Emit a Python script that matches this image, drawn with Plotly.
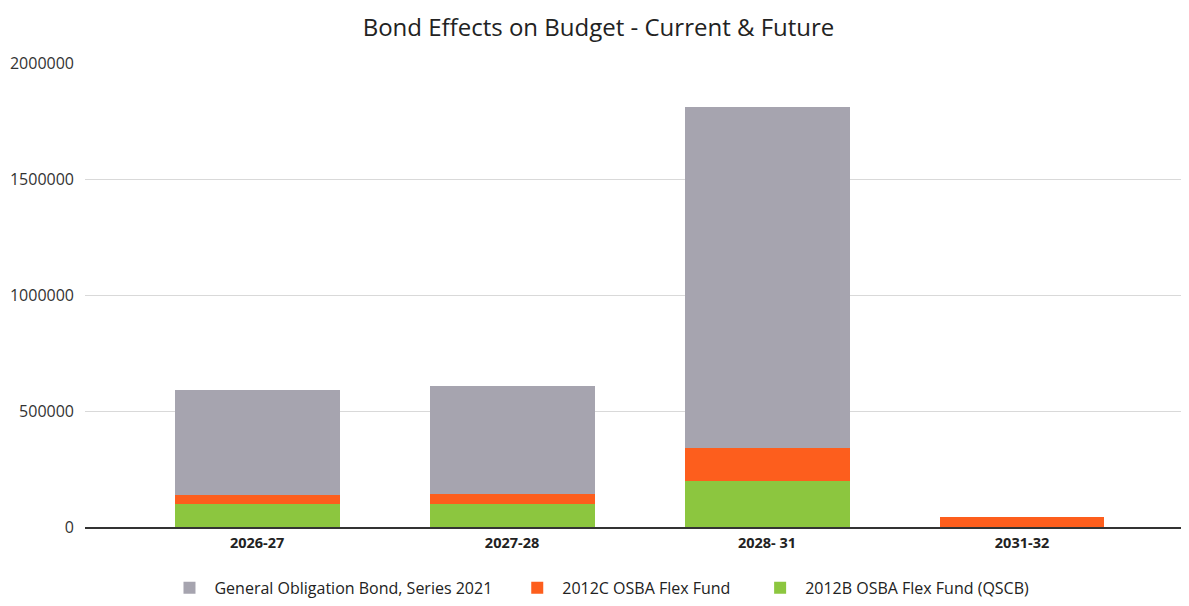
import plotly.graph_objects as go

periods = ["2026-27", "2027-28", "2028- 31", "2031-32"]
go_bond_2021 = [450000, 466000, 1470000, 0]
osba_2012c = [40000, 42000, 140000, 45000]
osba_2012b = [100000, 100000, 200000, 0]

series = [
    ("2012B OSBA Flex Fund (QSCB)", osba_2012b, "#8cc63f", "legend3"),
    ("2012C OSBA Flex Fund", osba_2012c, "#fd5e1d", "legend2"),
    ("General Obligation Bond, Series 2021", go_bond_2021, "#a6a4af", "legend"),
]

fig = go.Figure()
for name, vals, color, leg in series:
    fig.add_trace(go.Bar(
        x=periods,
        y=vals,
        name=name,
        legend=leg,
        marker={"color": color, "line": {"width": 0}},
    ))

# one legend per series so the entries can be spread like the original
legend_style = {
    "orientation": "h",
    "xanchor": "left",
    "y": -0.131, "yanchor": "middle",
    "font": {"size": 16, "color": "#222"},
    "itemwidth": 40,
    "bgcolor": "rgba(0,0,0,0)",
}

# page body has an 8px margin, so the figure is sized to fit inside it
fig.update_layout(
    barmode="stack",
    bargap=0.353,
    width=1181,
    height=598,
    title={
        "text": "Bond Effects on Budget - Current & Future",
        "x": 0.5, "xanchor": "center", "y": 0.982, "yanchor": "top",
        "font": {"family": "Open Sans", "size": 24, "color": "#222"},
    },
    font={"family": "Open Sans", "color": "#333"},
    plot_bgcolor="white",
    paper_bgcolor="white",
    margin={"l": 77, "r": 0, "t": 55, "b": 79},
    xaxis={
        "range": [-0.675, 3.655],
        "showline": True,
        "linecolor": "#333",
        "linewidth": 2,
        "tickfont": {"size": 14.5, "family": "Open Sans", "color": "#222", "weight": "bold"},
        "ticks": "",
        "ticklabelstandoff": 2,
    },
    yaxis={
        "range": [0, 2000000],
        "tickvals": [0, 500000, 1000000, 1500000, 2000000],
        "ticktext": ["0", "500000", "1000000", "1500000", "2000000"],
        "gridcolor": "#d9d9d9",
        "gridwidth": 1,
        "zeroline": False,
        "tickfont": {"size": 16, "color": "#333"},
        "ticklabelstandoff": 10,
    },
    legend={**legend_style, "x": 0.072},
    legend2={**legend_style, "x": 0.387},
    legend3={**legend_style, "x": 0.607},
    showlegend=True,
)

fig.write_html("out.html")
